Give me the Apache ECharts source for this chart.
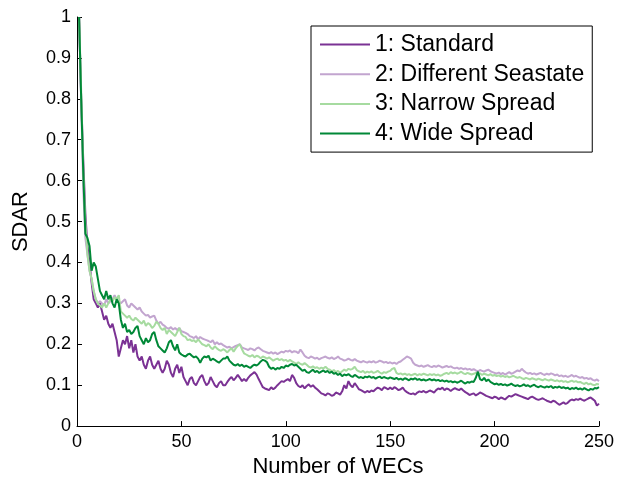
<!DOCTYPE html>
<html>
<head>
<meta charset="utf-8">
<script src="https://cdn.jsdelivr.net/npm/echarts@6/dist/echarts.min.js"></script>
<style>html,body{margin:0;padding:0;background:#fff;}#c{width:630px;height:483px;}</style>
</head>
<body>
<div id="c"></div>
<script>
var seriesNames = ['1: Standard', '2: Different Seastate', '3: Narrow Spread', '4: Wide Spread'];
var xTicks = [0, 50, 100, 150, 200, 250];
var yTicks = [0, 0.1, 0.2, 0.3, 0.4, 0.5, 0.6, 0.7, 0.8, 0.9, 1];

var standard = [
1.00,.80,.65,.52,.44,.40,.35,.31,.30,.29,
.30,.28,.26,.27,.25,.24,.25,.23,.21,.17,
.19,.21,.20,.22,.19,.21,.18,.20,.17,.16,
.17,.15,.14,.16,.17,.15,.14,.15,.16,.14,
.13,.14,.16,.15,.13,.12,.14,.15,.13,.145,
.12,.11,.10,.115,.12,.105,.10,.11,.12,.125,
.11,.10,.105,.12,.11,.10,.095,.105,.11,.10,
.10,.108,.115,.12,.112,.118,.125,.118,.11,.115,
.11,.118,.124,.128,.132,.126,.115,.105,.095,.092,
.09,.088,.095,.09,.094,.1,.105,.11,.108,.112,
.115,.11,.125,.118,.105,.098,.095,.1,.092,.098,
.102,.096,.1,.094,.09,.085,.08,.078,.075,.08,
.078,.074,.076,.082,.08,.077,.085,.1,.092,.11,
.1,.095,.105,.098,.09,.088,.085,.082,.086,.083,
.087,.085,.09,.094,.092,.088,.095,.093,.09,.094,
.09,.095,.092,.088,.09,.094,.087,.083,.08,.078,
.08,.077,.082,.085,.083,.086,.082,.084,.087,.085,
.082,.088,.092,.09,.094,.088,.092,.09,.086,.09,
.093,.09,.088,.092,.087,.083,.08,.076,.078,.08,
.075,.078,.082,.08,.077,.074,.072,.07,.068,.072,
.07,.066,.07,.068,.065,.07,.074,.072,.075,.078,
.076,.074,.072,.07,.068,.066,.07,.072,.069,.066,
.064,.066,.068,.065,.062,.06,.058,.062,.06,.056,
.052,.055,.058,.054,.057,.062,.065,.063,.066,.064,
.067,.064,.062,.065,.068,.07,.066,.062,.05,.055
];
var differentSeastate = [
1.00,.80,.58,.46,.42,.38,.36,.33,.31,.30,
.305,.30,.295,.31,.30,.305,.31,.32,.31,.305,
.30,.305,.31,.295,.29,.3,.295,.29,.285,.29,
.28,.275,.27,.272,.265,.268,.27,.258,.25,.255,
.248,.245,.24,.238,.242,.236,.24,.235,.24,.232,
.23,.228,.225,.22,.218,.215,.22,.212,.218,.214,
.212,.21,.208,.205,.21,.2,.205,.2,.202,.198,
.195,.192,.194,.19,.193,.196,.198,.2,.192,.19,
.188,.186,.19,.188,.185,.19,.192,.188,.184,.182,
.18,.178,.181,.177,.18,.176,.179,.182,.18,.184,
.182,.185,.18,.183,.182,.178,.187,.18,.172,.168,
.166,.17,.168,.165,.167,.163,.166,.168,.17,.167,
.165,.168,.164,.166,.17,.165,.163,.16,.162,.165,
.162,.16,.164,.16,.158,.156,.159,.157,.155,.158,
.156,.159,.155,.157,.16,.158,.155,.157,.154,.156,
.153,.155,.152,.156,.158,.162,.166,.17,.168,.165,
.155,.15,.148,.146,.148,.145,.147,.149,.146,.144,
.147,.145,.148,.146,.143,.145,.147,.144,.146,.143,
.141,.143,.14,.142,.139,.141,.138,.14,.137,.139,
.136,.134,.137,.135,.133,.136,.138,.134,.132,.13,
.128,.131,.127,.13,.126,.129,.132,.128,.13,.133,
.136,.134,.14,.135,.131,.128,.13,.127,.129,.126,
.128,.13,.127,.125,.128,.126,.129,.127,.124,.126,
.122,.124,.121,.123,.12,.122,.125,.121,.123,.12,
.118,.12,.116,.118,.115,.117,.113,.111,.114,.11
];
var narrowSpread = [
1.00,.82,.63,.50,.42,.38,.36,.33,.31,.30,
.295,.29,.30,.29,.30,.31,.305,.315,.31,.32,
.28,.275,.27,.265,.27,.262,.258,.265,.26,.255,
.25,.258,.245,.252,.248,.24,.245,.255,.25,.24,
.235,.24,.225,.235,.23,.225,.22,.23,.24,.225,
.22,.218,.21,.212,.208,.21,.205,.212,.206,.2,
.198,.195,.2,.192,.188,.195,.19,.186,.184,.188,
.185,.18,.186,.19,.182,.19,.196,.2,.188,.178,
.175,.172,.17,.174,.168,.172,.17,.166,.17,.168,
.165,.168,.164,.16,.163,.165,.161,.164,.16,.162,
.158,.162,.158,.155,.152,.156,.152,.15,.154,.15,
.145,.143,.146,.142,.144,.14,.143,.141,.145,.14,
.138,.134,.137,.132,.135,.13,.134,.138,.135,.14,
.138,.14,.145,.137,.134,.132,.135,.13,.133,.131,
.134,.13,.132,.135,.131,.128,.132,.13,.133,.135,
.14,.142,.13,.127,.129,.126,.128,.125,.127,.124,
.126,.128,.124,.127,.125,.128,.126,.124,.127,.125,
.127,.124,.126,.123,.125,.128,.13,.127,.132,.129,
.131,.128,.13,.133,.129,.127,.13,.128,.126,.128,
.13,.127,.129,.125,.128,.126,.124,.127,.123,.125,
.122,.124,.121,.123,.12,.122,.119,.121,.123,.12,
.118,.12,.117,.115,.118,.116,.114,.117,.115,.113,
.116,.114,.112,.115,.113,.111,.114,.112,.11,.112,
.109,.111,.108,.11,.107,.109,.111,.108,.11,.107,
.108,.105,.103,.106,.102,.104,.101,.1,.103,.102
];
var wideSpread = [
1.00,.80,.62,.47,.46,.44,.38,.40,.39,.36,
.33,.32,.31,.33,.31,.32,.30,.29,.31,.30,
.26,.24,.25,.23,.235,.225,.23,.24,.245,.22,
.21,.2,.215,.205,.21,.225,.23,.21,.195,.19,
.185,.18,.19,.205,.21,.195,.185,.2,.18,.175,
.172,.17,.175,.177,.172,.168,.17,.165,.155,.165,
.17,.168,.172,.16,.165,.162,.158,.155,.16,.165,
.165,.17,.16,.155,.15,.148,.152,.147,.15,.145,
.148,.145,.142,.147,.15,.148,.152,.158,.162,.16,
.156,.145,.14,.143,.138,.142,.14,.145,.142,.148,
.146,.15,.152,.148,.15,.145,.14,.135,.138,.132,
.13,.134,.138,.132,.135,.13,.133,.136,.132,.135,
.13,.133,.128,.13,.125,.128,.122,.126,.124,.127,
.123,.12,.125,.122,.118,.12,.117,.121,.119,.122,
.118,.12,.116,.119,.121,.117,.12,.118,.116,.119,
.117,.115,.118,.114,.116,.113,.117,.115,.112,.116,
.114,.117,.113,.115,.112,.114,.111,.113,.115,.112,
.114,.111,.113,.11,.112,.109,.111,.108,.11,.107,
.109,.106,.108,.111,.107,.104,.108,.106,.109,.108,
.118,.133,.115,.112,.118,.11,.114,.108,.105,.102,
.104,.101,.103,.1,.102,.099,.101,.104,.1,.098,
.1,.097,.099,.102,.098,.1,.096,.099,.101,.097,
.095,.098,.096,.094,.097,.095,.098,.093,.096,.094,
.097,.093,.095,.092,.094,.09,.093,.091,.094,.09,
.092,.089,.093,.09,.087,.091,.089,.093,.092,.095
];

var colors = ['#7b3294', '#c2a5cf', '#a6dba0', '#008837'];
var allData = [standard, differentSeastate, narrowSpread, wideSpread];

function pairs(arr) {
  var out = [];
  for (var i = 0; i < arr.length; i++) out.push([i + 1, arr[i]]);
  return out;
}

var chart = echarts.init(document.getElementById('c'), null, {renderer: 'canvas'});
var font = 'Arial, "Liberation Sans", Helvetica, sans-serif';
chart.setOption({
  animation: false,
  backgroundColor: '#ffffff',
  textStyle: {fontFamily: font},
  grid: {left: 77, right: 31, top: 17, bottom: 54, containLabel: false},
  legend: {
    orient: 'vertical',
    left: 311,
    top: 26,
    padding: [7, 8, 7, 9],
    itemGap: 6.7,
    itemWidth: 50,
    itemHeight: 2,
    icon: 'rect',
    backgroundColor: '#ffffff',
    borderColor: '#000000',
    borderWidth: 1,
    borderRadius: 0,
    textStyle: {fontSize: 23, color: '#000', fontFamily: font, lineHeight: 22},
    data: seriesNames.map(function (n, i) {
      return {name: n, icon: 'rect', itemStyle: {color: colors[i]}};
    })
  },
  xAxis: {
    type: 'value',
    min: xTicks[0],
    max: xTicks[xTicks.length - 1],
    interval: xTicks[1] - xTicks[0],
    name: 'Number of WECs',
    nameLocation: 'middle',
    nameGap: 24,
    nameTextStyle: {fontSize: 22, color: '#000', fontFamily: font},
    axisLine: {show: true, lineStyle: {color: '#000', width: 1}},
    axisTick: {show: true, inside: true, length: 5, lineStyle: {color: '#000'}},
    axisLabel: {fontSize: 18, color: '#000', margin: 7, fontFamily: font},
    splitLine: {show: false}
  },
  yAxis: {
    type: 'value',
    min: yTicks[0],
    max: yTicks[yTicks.length - 1],
    interval: 0.1,
    name: 'SDAR',
    nameLocation: 'middle',
    nameGap: 45,
    nameRotate: 90,
    nameTextStyle: {fontSize: 22, color: '#000', fontFamily: font},
    axisLine: {show: true, lineStyle: {color: '#000', width: 1}},
    axisTick: {show: true, inside: true, length: 5, lineStyle: {color: '#000'}},
    axisLabel: {fontSize: 18, color: '#000', margin: 6, fontFamily: font},
    splitLine: {show: false}
  },
  series: allData.map(function (d, i) {
    return {
      name: seriesNames[i],
      type: 'line',
      data: pairs(d),
      symbol: 'none',
      showSymbol: false,
      color: colors[i],
      lineStyle: {color: colors[i], width: 2},
      z: 2 + i
    };
  })
});
</script>
</body>
</html>
